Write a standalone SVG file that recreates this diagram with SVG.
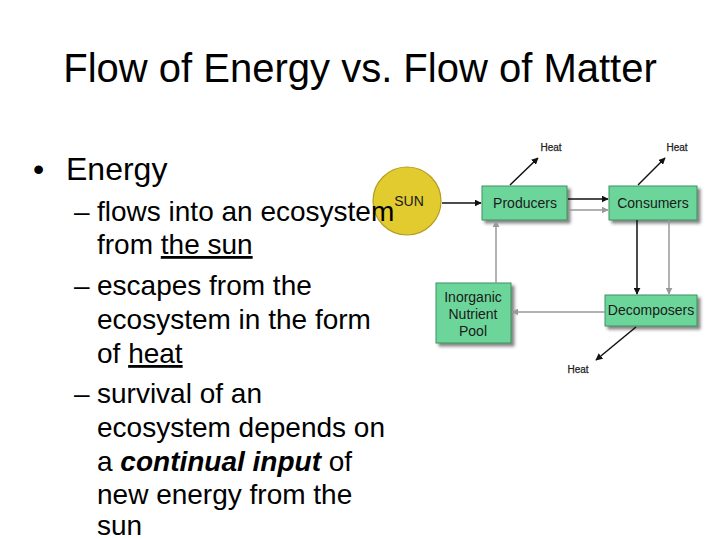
<svg xmlns="http://www.w3.org/2000/svg" width="720" height="540" viewBox="0 0 720 540">
<defs>
<marker id="ab" viewBox="0 0 10 10" refX="9" refY="5" markerWidth="7" markerHeight="7" orient="auto" markerUnits="userSpaceOnUse"><path d="M0,0 L10,5 L0,10 z" fill="#111"/></marker>
<marker id="ag" viewBox="0 0 10 10" refX="9" refY="5" markerWidth="7" markerHeight="7" orient="auto" markerUnits="userSpaceOnUse"><path d="M0,0 L10,5 L0,10 z" fill="#999"/></marker>
<filter id="sh" x="-10%" y="-10%" width="130%" height="140%"><feDropShadow dx="3" dy="3" stdDeviation="1.5" flood-color="#333" flood-opacity="0.6"/></filter>
</defs>
<style>
.box{fill:#6CD69A;stroke:#3F8F60;stroke-width:1;filter:url(#sh)}
.bl{font-family:"Liberation Sans",Arial,sans-serif;font-size:14px;fill:#1a1a1a;text-anchor:middle}
.heat{font-family:"Liberation Sans",Arial,sans-serif;font-size:10px;fill:#222;text-anchor:middle;stroke:#222;stroke-width:0.25}
.k{stroke:#111;stroke-width:1.5;fill:none;marker-end:url(#ab)}
.g{stroke:#999;stroke-width:1.5;fill:none;marker-end:url(#ag)}
.t{font-family:"Liberation Sans",Arial,sans-serif;fill:#000}
.s{font-size:28px}
</style>
<rect width="720" height="540" fill="#fff"/>
<text class="t" x="360" y="82" font-size="40" text-anchor="middle">Flow of Energy vs. Flow of Matter</text>

<g id="sun"><circle cx="407" cy="201" r="34" fill="#E2CB2E" stroke="#B49E22" stroke-width="1.2"/><text class="bl" x="409" y="206" font-size="13">SUN</text></g>
<g id="producers"><rect class="box" x="482" y="186" width="85" height="34"/><text class="bl" x="525" y="208">Producers</text></g>
<g id="consumers"><rect class="box" x="609" y="186" width="88" height="34"/><text class="bl" x="653" y="208">Consumers</text></g>
<g id="pool"><rect class="box" x="436" y="283" width="75" height="60"/><text class="bl" x="473" y="302">Inorganic</text><text class="bl" x="473" y="319">Nutrient</text><text class="bl" x="473" y="336">Pool</text></g>
<g id="decomposers"><rect class="box" x="605" y="295" width="92" height="31"/><text class="bl" x="651" y="315">Decomposers</text></g>
<g id="heat-labels"><text class="heat" x="551" y="151">Heat</text><text class="heat" x="677" y="151">Heat</text><text class="heat" x="578" y="373">Heat</text></g>

<g id="connectors">
<line class="k" x1="442" y1="203" x2="481" y2="203"/>
<line class="k" x1="568" y1="199" x2="608" y2="199"/>
<line class="g" x1="568" y1="210" x2="608" y2="210"/>
<line class="k" x1="510" y1="185" x2="538" y2="158"/>
<line class="k" x1="638" y1="185" x2="665" y2="158"/>
<line class="k" x1="637" y1="220" x2="637" y2="294"/>
<line class="g" x1="669" y1="220" x2="669" y2="294"/>
<line class="g" x1="605" y1="312" x2="512" y2="312"/>
<line class="g" x1="496" y1="283" x2="496" y2="221"/>
<line class="k" x1="636" y1="327" x2="596" y2="360"/>
</g>

<g id="text">
<text class="t" x="33" y="180" font-size="32">•</text>
<text class="t" x="66" y="180" font-size="32">Energy</text>
<text class="t s" x="74" y="221">–</text>
<text class="t s" x="97" y="221">flows into an ecosystem</text>
<text class="t s" x="97" y="254">from <tspan text-decoration="underline">the sun</tspan></text>
<text class="t s" x="74" y="295">–</text>
<text class="t s" x="97" y="295">escapes from the</text>
<text class="t s" x="97" y="329">ecosystem in the form</text>
<text class="t s" x="97" y="363">of <tspan text-decoration="underline">heat</tspan></text>
<text class="t s" x="74" y="403">–</text>
<text class="t s" x="97" y="403">survival of an</text>
<text class="t s" x="97" y="437">ecosystem depends on</text>
<text class="t s" x="97" y="471">a <tspan font-weight="bold" font-style="italic">continual input</tspan> of</text>
<text class="t s" x="97" y="504">new energy from the</text>
<text class="t s" x="97" y="535">sun</text>
</g>
</svg>
